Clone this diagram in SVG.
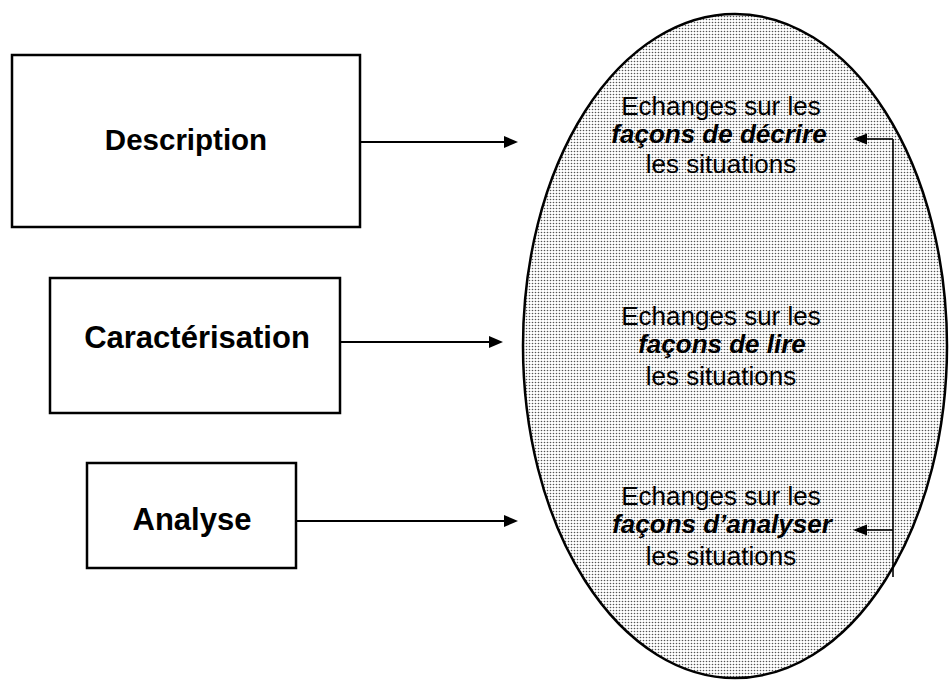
<svg xmlns="http://www.w3.org/2000/svg" width="949" height="680" viewBox="0 0 949 680">
<style>
.box{fill:#fff;stroke:#000;stroke-width:2.5}
.lbl{font-family:"Liberation Sans",Arial,sans-serif;font-weight:bold;fill:#000;text-anchor:middle}
.t{font-family:"Liberation Sans",Arial,sans-serif;font-size:26px;fill:#000;text-anchor:middle}
.bi{font-weight:bold;font-style:italic}
.conn{stroke:#000;stroke-width:2;fill:none}
.fb{stroke:#000;stroke-width:1.6;fill:none}
.head{fill:#000;stroke:none}
</style>
<defs>
<pattern id="dots" width="3" height="3" patternUnits="userSpaceOnUse">
<rect width="3" height="3" fill="#fff"/>
<circle cx="1.5" cy="1.5" r="0.8" fill="#555"/>
</pattern>
</defs>
<g id="ellipse">
<ellipse cx="735" cy="346" rx="212" ry="332" fill="url(#dots)" stroke="#000" stroke-width="2.5"/>
<text class="t" x="721" y="115">Echanges sur les</text>
<text class="t bi" x="719" y="143">façons de décrire</text>
<text class="t" x="721" y="173">les situations</text>
<text class="t" x="721" y="325">Echanges sur les</text>
<text class="t bi" x="722" y="353">façons de lire</text>
<text class="t" x="721" y="385">les situations</text>
<text class="t" x="721" y="505">Echanges sur les</text>
<text class="t bi" x="722" y="533">façons d’analyser</text>
<text class="t" x="721" y="565">les situations</text>
</g>
<g id="description">
<rect class="box" x="12" y="55" width="348" height="172"/>
<text class="lbl" x="186" y="150" font-size="29.5">Description</text>
</g>
<g id="caracterisation">
<rect class="box" x="50" y="278" width="290" height="135"/>
<text class="lbl" x="197" y="348" font-size="31">Caractérisation</text>
</g>
<g id="analyse">
<rect class="box" x="87" y="463" width="209" height="105"/>
<text class="lbl" x="192" y="530" font-size="31">Analyse</text>
</g>
<g id="connectors">
<line class="conn" x1="360" y1="142" x2="506" y2="142"/>
<path class="head" d="M518,142 L504,136 L504,148 Z"/>
<line class="conn" x1="340" y1="342" x2="491" y2="342"/>
<path class="head" d="M503,342 L489,336 L489,348 Z"/>
<line class="conn" x1="296" y1="521" x2="506" y2="521"/>
<path class="head" d="M518,521 L504,515 L504,527 Z"/>
<line class="fb" x1="893" y1="577" x2="893" y2="139"/>
<line class="fb" x1="893" y1="139" x2="864" y2="139"/>
<path class="head" d="M853,139 L867,133.5 L867,144.5 Z"/>
<line class="fb" x1="893" y1="530" x2="864" y2="530"/>
<path class="head" d="M853,530 L867,524.5 L867,535.5 Z"/>
</g>
</svg>
